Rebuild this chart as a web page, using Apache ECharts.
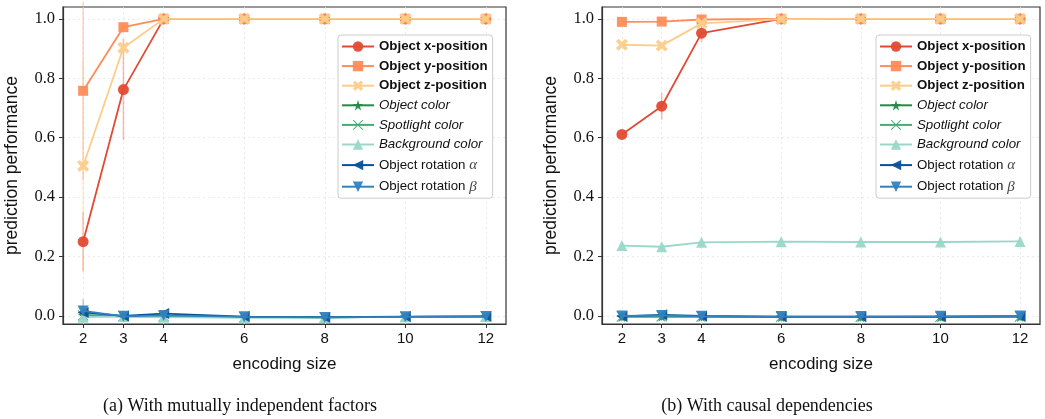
<!DOCTYPE html>
<html><head><meta charset="utf-8">
<script src="https://cdn.jsdelivr.net/npm/echarts@6/dist/echarts.min.js"></script>
<style>html,body{margin:0;padding:0;background:#fff}#c{width:1045px;height:419px}</style>
</head><body><div id="c"></div>
<script>
// ---- data ----
const encodingSizes = [2, 3, 4, 6, 8, 10, 12];
const xTickValues = [2, 3, 4, 6, 8, 10, 12];
const yTickValues = [0, 0.2, 0.4, 0.6, 0.8, 1.0];
const seriesNames = ['Object x-position', 'Object y-position', 'Object z-position',
  'Object color', 'Spotlight color', 'Background color', 'Object rotation α', 'Object rotation β'];

// (a) mutually independent factors
const a_xPos = [0.25, 0.762, 1.0, 1.0, 1.0, 1.0, 1.0];
const a_yPos = [0.758, 0.972, 1.0, 1.0, 1.0, 1.0, 1.0];
const a_zPos = [0.505, 0.903, 1.0, 1.0, 1.0, 1.0, 1.0];
const a_objColor = [0.003, -0.001, -0.002, -0.004, -0.005, -0.003, -0.002];
const a_spotColor = [0.002, 0.0, -0.001, -0.004, -0.005, -0.003, -0.002];
const a_bgColor = [-0.004, -0.002, -0.004, -0.006, -0.005, -0.003, -0.002];
const a_rotAlpha = [0.012, 0.0, 0.008, -0.002, -0.004, -0.002, -0.001];
const a_rotBeta = [0.017, -0.001, 0.002, -0.003, -0.005, -0.003, -0.002];
const a_xPosErr = [0.10, 0.17, 0, 0, 0, 0, 0];
const a_yPosErr = [0.30, 0.01, 0, 0, 0, 0, 0];
const a_zPosErr = [0.355, 0.03, 0, 0, 0, 0, 0];
const a_rotBetaErr = [0.04, 0, 0, 0, 0, 0, 0];

// (b) causal dependencies
const b_xPos = [0.611, 0.706, 0.952, 1.0, 1.0, 1.0, 1.0];
const b_yPos = [0.990, 0.991, 0.998, 1.0, 1.0, 1.0, 1.0];
const b_zPos = [0.913, 0.910, 0.985, 0.999, 1.0, 1.0, 1.0];
const b_objColor = [-0.002, -0.001, -0.002, -0.003, -0.003, -0.003, -0.002];
const b_spotColor = [-0.002, -0.001, -0.002, -0.003, -0.003, -0.003, -0.002];
const b_bgColor = [0.237, 0.233, 0.248, 0.250, 0.249, 0.249, 0.251];
const b_rotAlpha = [-0.001, 0.004, 0.0, -0.002, -0.002, -0.002, -0.001];
const b_rotBeta = [0.0, 0.002, -0.001, -0.002, -0.002, -0.001, 0.0];
const b_xPosErr = [0.0, 0.045, 0.03, 0, 0, 0, 0];

const captions = ['(a) With mutually independent factors', '(b) With causal dependencies'];
const xAxisName = 'encoding size';
const yAxisName = 'prediction performance';

// ---- styles ----
const colors = ['#e34a33', '#fc8d59', '#fdcc8a', '#238b45', '#41ae76', '#99d8c9', '#08519c', '#3182bd'];
const symbols = [
  'circle', 'rect',
  'path://M0,22 L22,0 L50,28 L78,0 L100,22 L72,50 L100,78 L78,100 L50,72 L22,100 L0,78 L28,50 Z',
  'path://M50,0 L61,35 L98,35 L68,57 L79,91 L50,70 L21,91 L32,57 L2,35 L39,35 Z',
  'path://M0,7 L7,0 L50,43 L93,0 L100,7 L57,50 L100,93 L93,100 L50,57 L7,100 L0,93 L43,50 Z',
  'triangle',
  'path://M0,50 L100,0 L100,100 Z',
  'path://M0,0 L100,0 L50,100 Z'
];
const symbolSizes = [11, 10, 12, 11, 11, 11, 11, 11];
const dataA = [a_xPos, a_yPos, a_zPos, a_objColor, a_spotColor, a_bgColor, a_rotAlpha, a_rotBeta];
const dataB = [b_xPos, b_yPos, b_zPos, b_objColor, b_spotColor, b_bgColor, b_rotAlpha, b_rotBeta];

const sans = 'Liberation Sans';
const serif = 'Liberation Serif';

function zip(xs, ys) { return xs.map((x, i) => [x, ys[i]]); }
function errData(xs, ys, es) { return xs.map((x, i) => [x, ys[i] - es[i], ys[i] + es[i]]).filter((d, i) => es[i] > 0); }

function errSeries(idx, xs, ys, es, color) {
  return {
    type: 'custom', xAxisIndex: idx, yAxisIndex: idx, silent: true, z: 1,
    data: errData(xs, ys, es),
    renderItem: function (params, api) {
      const p1 = api.coord([api.value(0), api.value(1)]);
      const p2 = api.coord([api.value(0), api.value(2)]);
      return { type: 'line', shape: { x1: p1[0], y1: p1[1], x2: p2[0], y2: p2[1] },
        style: { stroke: color, lineWidth: 1.6, opacity: 0.35 } };
    }
  };
}

const series = [];
[dataA, dataB].forEach((ds, gi) => {
  ds.forEach((vals, si) => {
    series.push({
      name: seriesNames[si], type: 'line', xAxisIndex: gi, yAxisIndex: gi,
      data: zip(encodingSizes, vals),
      symbol: symbols[si], symbolSize: symbolSizes[si],
      lineStyle: { color: colors[si], width: 1.8 },
      itemStyle: { color: colors[si], opacity: 0.95 },
      z: 2 + si, animation: false
    });
  });
});
series.push(errSeries(0, encodingSizes, a_xPos, a_xPosErr, colors[0]));
series.push(errSeries(0, encodingSizes, a_yPos, a_yPosErr, colors[1]));
series.push(errSeries(0, encodingSizes, a_zPos, a_zPosErr, colors[2]));
series.push(errSeries(0, encodingSizes, a_rotBeta, a_rotBetaErr, colors[7]));
series.push(errSeries(1, encodingSizes, b_xPos, b_xPosErr, colors[0]));

const grids = [
  { left: 63, top: 7, width: 443, height: 317 },
  { left: 602, top: 7, width: 438, height: 317 }
];

function xAxis(i) {
  return {
    type: 'value', gridIndex: i, min: 1.5, max: 12.5,
    name: xAxisName, nameLocation: 'middle', nameGap: 32,
    nameTextStyle: { fontFamily: sans, fontSize: 17, color: '#111' },
    axisLine: { show: true, onZero: false, lineStyle: { color: '#333', width: 1.2 } },
    axisTick: { show: true, customValues: xTickValues, length: 4, lineStyle: { color: '#333' } },
    axisLabel: { customValues: xTickValues, fontFamily: sans, fontSize: 15, color: '#111', margin: 7 },
    splitLine: { show: true, lineStyle: { color: '#e4e4e4', type: [2, 3], width: 0.8 } }
  };
}
function yAxis(i) {
  return {
    type: 'value', gridIndex: i, min: -0.027, max: 1.04,
    name: yAxisName, nameLocation: 'middle', nameGap: 42,
    nameTextStyle: { fontFamily: sans, fontSize: 17.5, color: '#111' },
    axisLine: { show: true, lineStyle: { color: '#333', width: 1.2 } },
    axisTick: { show: true, customValues: yTickValues, length: 4, lineStyle: { color: '#333' } },
    axisLabel: { customValues: yTickValues, fontFamily: serif, fontSize: 16.5, color: '#111', margin: 8,
      formatter: v => v.toFixed(1) },
    splitLine: { show: true, lineStyle: { color: '#e4e4e4', type: [2, 3], width: 0.8 } }
  };
}

function legend(left, top) {
  return {
    left: left, top: top, orient: 'vertical', itemWidth: 32, itemHeight: 13, itemGap: 6.6,
    backgroundColor: 'rgba(255,255,255,0.9)', borderColor: '#ccc', borderWidth: 1, borderRadius: 3,
    padding: [5, 5, 4, 3],
    textStyle: { fontFamily: sans, fontSize: 13.3, color: '#111',
      rich: { g: { fontFamily: serif, fontStyle: 'italic', fontSize: 15, color: '#444' } } },
    formatter: function (name) {
      if (name === 'Object rotation α') return 'Object rotation {g|α}';
      if (name === 'Object rotation β') return 'Object rotation {g|β}';
      return name;
    },
    data: seriesNames.map((n, i) => ({
      name: n,
      textStyle: i < 3 ? { fontWeight: 'bold' } : (i < 6 ? { fontStyle: 'italic' } : {})
    }))
  };
}

const option = {
  animation: false,
  backgroundColor: '#fff',
  grid: grids.map(g => Object.assign({ show: true, borderColor: '#333', borderWidth: 1.2, backgroundColor: '#fff' }, g)),
  xAxis: [xAxis(0), xAxis(1)],
  yAxis: [yAxis(0), yAxis(1)],
  legend: [legend(338, 35), legend(876, 35)],
  title: [
    { text: captions[0], left: 235, top: 392, textAlign: 'center',
      textStyle: { fontFamily: serif, fontSize: 18, fontWeight: 'normal', color: '#111' } },
    { text: captions[1], left: 762, top: 392, textAlign: 'center',
      textStyle: { fontFamily: serif, fontSize: 18, fontWeight: 'normal', color: '#111' } }
  ],
  series: series
};

const chart = echarts.init(document.getElementById('c'), null, { renderer: 'canvas' });
chart.setOption(option);
</script></body></html>
